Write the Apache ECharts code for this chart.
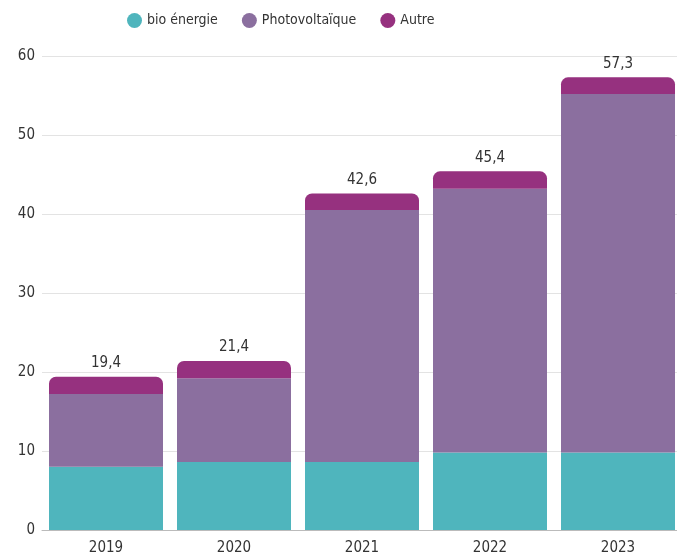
<!DOCTYPE html>
<html>
<head>
<meta charset="utf-8">
<script src="https://cdn.jsdelivr.net/npm/echarts@6/dist/echarts.min.js"></script>
<style>
  html, body { margin: 0; padding: 0; background: #fff; }
  #chart { width: 677px; height: 558px; }
</style>
</head>
<body>
<div id="chart"></div>
<script>
const years = ["2019", "2020", "2021", "2022", "2023"];
const bioEnergie = [8.0, 8.6, 8.6, 9.8, 9.8];
const photovoltaique = [9.2, 10.6, 31.9, 33.4, 45.4];
const autre = [2.2, 2.2, 2.1, 2.2, 2.1];
const totals = [19.4, 21.4, 42.6, 45.4, 57.3];

const font = "DejaVu Sans Condensed";

const chart = echarts.init(document.getElementById("chart"));

chart.setOption({
  animation: false,
  textStyle: { fontFamily: font },
  legend: {
    top: 8,
    left: 122,
    icon: "circle",
    itemWidth: 15,
    itemHeight: 15,
    itemGap: 24,
    textStyle: { fontSize: 14, color: "#333", fontFamily: font },
  },
  grid: { left: 42, top: 56, right: -5, bottom: 28, outerBoundsMode: "none" },
  xAxis: {
    type: "category",
    data: years,
    axisTick: { show: false },
    axisLine: { lineStyle: { color: "#bbb" } },
    axisLabel: { fontSize: 15, color: "#333", margin: 11 },
  },
  yAxis: {
    type: "value",
    min: 0,
    max: 60,
    interval: 10,
    axisLabel: { fontSize: 15, color: "#333", margin: 7 },
    splitLine: { lineStyle: { color: "#e3e3e3" } },
  },
  series: [
    {
      name: "bio énergie",
      type: "bar",
      stack: "total",
      barWidth: 114,
      itemStyle: { color: "#4fb5bd" },
      data: bioEnergie,
    },
    {
      name: "Photovoltaïque",
      type: "bar",
      stack: "total",
      itemStyle: { color: "#8b6f9f" },
      data: photovoltaique,
    },
    {
      name: "Autre",
      type: "bar",
      stack: "total",
      itemStyle: { color: "#96317f", borderRadius: [7, 7, 0, 0] },
      label: {
        show: true,
        position: "top",
        distance: 6,
        fontSize: 15,
        color: "#333",
        formatter: (p) => totals[p.dataIndex].toFixed(1).replace(".", ","),
      },
      data: autre,
    },
  ],
});
</script>
</body>
</html>
